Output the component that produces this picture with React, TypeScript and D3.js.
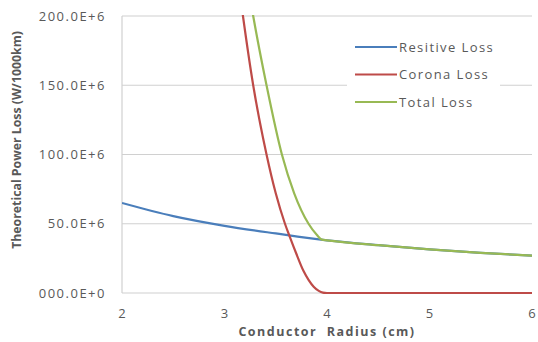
import React from 'react'
import * as d3 from 'd3'

// values (W/1000km, in millions)
const resistiveR = [2, 2.5, 3, 3.5, 4, 4.5, 5, 5.5, 6]
const resistiveLoss = [65, 55.5, 48.5, 43, 38, 34.5, 31.5, 29, 27]

const coronaR = [3.1, 3.18, 3.28, 3.41, 3.5, 3.59, 3.64, 3.7, 3.77, 3.82, 3.87, 3.92, 3.96, 4, 4.5, 5, 5.5, 6]
const coronaLoss = [245, 200, 150, 100, 72, 50, 40, 28.5, 16, 9.5, 4.5, 1.5, 0.3, 0, 0, 0, 0, 0]

const totalR = [3.2, 3.28, 3.41, 3.56, 3.68, 3.82, 3.9, 3.95, 4, 4.5, 5, 5.5, 6]
const totalLoss = [235, 200, 150, 100, 72, 50, 42, 38.5, 38, 34.5, 31.5, 29, 27]

const xTicks = [2, 3, 4, 5, 6]
const yTicks = [0, 50, 100, 150, 200]
const yTickLabels = ['000.0E+0', '50.0E+6', '100.0E+6', '150.0E+6', '200.0E+6']

const seriesNames = ['Resitive Loss', 'Corona Loss', 'Total Loss']
const seriesColors = ['#4a7ebb', '#be4b48', '#98b954']

const W = 538
const H = 342
const left = 122
const right = 532
const top = 16
const bottom = 293
const font = "'Open Sans', 'Liberation Sans', sans-serif"
const textColor = '#595959'

export default function App() {
  const x = d3.scaleLinear().domain([2, 6]).range([left, right])
  const y = d3.scaleLinear().domain([0, 200]).range([bottom, top])

  const line = d3
    .line<[number, number]>()
    .x(d => x(d[0]))
    .y(d => y(d[1]))
    .curve(d3.curveMonotoneX)

  const series = [
    resistiveR.map((r, i) => [r, resistiveLoss[i]] as [number, number]),
    coronaR.map((r, i) => [r, coronaLoss[i]] as [number, number]),
    totalR.map((r, i) => [r, totalLoss[i]] as [number, number])
  ]

  return (
    <svg
      width={W}
      height={H}
      style={{ position: 'absolute', left: 0, top: 0, background: '#fff' }}
    >
      <defs>
        <clipPath id="plot">
          <rect x={left} y={top - 1} width={right - left} height={bottom - top + 2} />
        </clipPath>
      </defs>

      {yTicks.map((t, i) => (
        <g key={t}>
          <line x1={left} x2={right} y1={y(t)} y2={y(t)} stroke="#d0d0d0" strokeWidth={1.2} />
          <text
            x={106}
            y={y(t)}
            dy="0.35em"
            textAnchor="end"
            fontFamily={font}
            fontSize={13}
            letterSpacing={1.5}
            fill={textColor}
          >
            {yTickLabels[i]}
          </text>
        </g>
      ))}
      <line x1={left} x2={left} y1={top} y2={bottom} stroke="#d0d0d0" strokeWidth={1.2} />

      {xTicks.map(t => (
        <text
          key={t}
          x={x(t)}
          y={318}
          textAnchor="middle"
          fontFamily={font}
          fontSize={13}
          fill={textColor}
        >
          {t}
        </text>
      ))}

      <g clipPath="url(#plot)">
        {series.map((s, i) => (
          <path
            key={i}
            d={line(s) || ''}
            fill="none"
            stroke={seriesColors[i]}
            strokeWidth={2.2}
          />
        ))}
      </g>

      <rect x={347} y={34} width={153} height={80} fill="#fff" />
      {seriesNames.map((n, i) => (
        <g key={n} transform={`translate(355,${47 + i * 27.5})`}>
          <line x1={0} x2={42} y1={0} y2={0} stroke={seriesColors[i]} strokeWidth={2.2} />
          <text
            x={44}
            y={0}
            dy="0.35em"
            fontFamily={font}
            fontSize={13}
            letterSpacing={1.4}
            fill={textColor}
          >
            {n}
          </text>
        </g>
      ))}

      <text
        x={327}
        y={336}
        textAnchor="middle"
        fontFamily={font}
        fontSize={12.5}
        fontWeight="bold"
        letterSpacing={1.5}
        fill={textColor}
        xmlSpace="preserve"
      >
        {'Conductor  Radius (cm)'}
      </text>
      <text
        transform="translate(21,140) rotate(-90)"
        textAnchor="middle"
        fontFamily={font}
        fontSize={12.3}
        fontWeight="bold"
        fill={textColor}
      >
        Theoretical Power Loss (W/1000km)
      </text>
    </svg>
  )
}
